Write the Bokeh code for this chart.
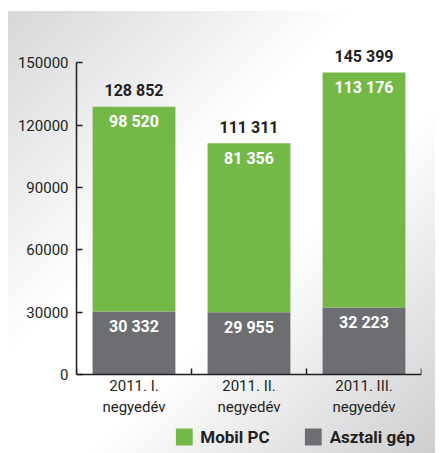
from bokeh.plotting import figure
from bokeh.models import FixedTicker, Legend, LegendItem, ColumnDataSource, Range1d
from bokeh.core.properties import value
from bokeh.embed import file_html
from bokeh.resources import INLINE

categories = ["2011. I.\nnegyedév", "2011. II.\nnegyedév", "2011. III.\nnegyedév"]
desktop = [30332, 29955, 32223]
mobile = [98520, 81356, 113176]
totals = [128852, 111311, 145399]
desktop_labels = ["30 332", "29 955", "32 223"]
mobile_labels = ["98 520", "81 356", "113 176"]
total_labels = ["128 852", "111 311", "145 399"]
y_ticks = [0, 30000, 60000, 90000, 120000, 150000]
y_tick_labels = ["0", "30000", "60000", "90000", "120000", "150000"]
series_names = ["Mobil PC", "Asztali gép"]

GREEN = "#74b848"
GRAY = "#6d6e71"
DARK = "#231f20"
BOLD_FONT = "Roboto"
REG_FONT = "Roboto"

xs = [i + 0.5 for i in range(len(categories))]
bounds = [float(i) for i in range(len(categories) + 1)]

src = ColumnDataSource(dict(
    x=xs, desktop=desktop, mobile=mobile, totals=totals,
    dl=desktop_labels, ml=mobile_labels, tl=total_labels,
))

p = figure(width=435, height=453,
           min_border_left=76, min_border_right=14, min_border_top=20, min_border_bottom=0,
           x_range=Range1d(0, len(categories)), y_range=Range1d(-38030, 170400),
           x_axis_label=None, y_axis_label=None,
           output_backend="svg", toolbar_location=None)
p.styles = {
    "background-image": "linear-gradient(135deg, #d6d7d9 0%, #ffffff 40%, #ffffff 60%, #cdced0 100%)",
    "background-size": "calc(100% - 8px) calc(100% - 11px)",
    "background-position": "right bottom",
    "background-repeat": "no-repeat",
}
p.border_fill_color = None
p.background_fill_color = None
p.outline_line_color = None
p.grid.visible = False

r_desk = p.vbar(x="x", bottom=0, top="desktop", width=0.72, source=src,
                fill_color=GRAY, line_color=None)
r_mob = p.vbar(x="x", bottom="desktop", top="totals", width=0.72, source=src,
               fill_color=GREEN, line_color=None)

p.text(x="x", y="totals", text="tl", source=src, y_offset=-16,
       text_align="center", text_baseline="middle",
       text_font=value(BOLD_FONT), text_font_style="bold", text_font_size="16px",
       text_color=DARK)
p.text(x="x", y="totals", text="ml", source=src, y_offset=15,
       text_align="center", text_baseline="middle",
       text_font=value(BOLD_FONT), text_font_style="bold", text_font_size="16px",
       text_color="white")
p.text(x="x", y="desktop", text="dl", source=src, y_offset=15,
       text_align="center", text_baseline="middle",
       text_font=value(BOLD_FONT), text_font_style="bold", text_font_size="16px",
       text_color="white")

# x axis, pinned at y = 0
xa = p.xaxis[0]
xa.axis_label = None
xa.fixed_location = 0
xa.ticker = FixedTicker(ticks=xs, minor_ticks=bounds)
xa.major_label_overrides = {x: c for x, c in zip(xs, categories)}
xa.major_tick_in = 0
xa.major_tick_out = 0
xa.minor_tick_in = 6
xa.minor_tick_out = 0
xa.minor_tick_line_color = DARK
xa.minor_tick_line_width = 1.5
xa.axis_line_color = DARK
xa.axis_line_width = 1.5
xa.major_label_standoff = 3
xa.major_label_text_font = REG_FONT
xa.major_label_text_font_size = "15px"
xa.major_label_text_color = DARK
xa.major_label_text_line_height = 1.15

# y axis
ya = p.yaxis[0]
ya.axis_label = None
ya.ticker = FixedTicker(ticks=y_ticks, minor_ticks=[])
ya.major_label_overrides = {t: l for t, l in zip(y_ticks, y_tick_labels)}
ya.bounds = (0, 150000)
ya.major_tick_in = 6
ya.major_tick_out = 0
ya.major_tick_line_color = DARK
ya.major_tick_line_width = 1.5
ya.axis_line_color = DARK
ya.axis_line_width = 1.5
ya.major_label_standoff = 8
ya.major_label_text_font = REG_FONT
ya.major_label_text_font_size = "15px"
ya.major_label_text_color = DARK

legend = Legend(items=[LegendItem(label=series_names[0], renderers=[r_mob]),
                       LegendItem(label=series_names[1], renderers=[r_desk])],
                orientation="horizontal", location="bottom_right",
                padding=0, margin=6, spacing=33, label_standoff=6,
                glyph_width=21, glyph_height=21, label_height=21,
                border_line_color=None, background_fill_alpha=0,
                label_text_font=BOLD_FONT, label_text_font_style="bold",
                label_text_font_size="17px", label_text_color=DARK)
p.add_layout(legend, "center")

open("out.html", "w").write(file_html(p, INLINE))
